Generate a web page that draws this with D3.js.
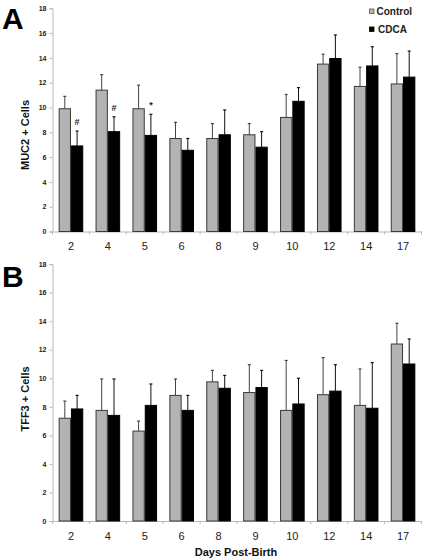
<!DOCTYPE html>
<html><head><meta charset="utf-8">
<script src="https://cdn.jsdelivr.net/npm/d3@7"></script>
<style>
html,body{margin:0;padding:0;background:#fff;}
svg{display:block;font-family:"Liberation Sans",Arial,sans-serif;}
</style></head>
<body><svg id="chart" width="425" height="560"></svg>
<script>
const categories = ["2","4","5","6","8","9","10","12","14","17"];
const seriesNames = ["Control","CDCA"];
const yTicks = [0,2,4,6,8,10,12,14,16,18];

const muc2Control = [9.9, 11.4, 9.9, 7.5, 7.5, 7.8, 9.2, 13.5, 11.7, 11.9];
const muc2ControlErr = [1.0, 1.25, 1.9, 1.3, 1.2, 0.9, 1.85, 0.8, 1.55, 2.45];
const muc2Cdca = [6.9, 8.05, 7.75, 6.55, 7.8, 6.8, 10.5, 13.95, 13.35, 12.45];
const muc2CdcaErr = [1.2, 1.2, 1.7, 0.95, 2.0, 1.25, 1.1, 1.9, 1.55, 2.1];
const muc2Marks = ["#", "#", "*", "", "", "", "", "", "", ""];

const tff3Control = [7.2, 7.75, 6.3, 8.8, 9.75, 9.0, 7.75, 8.85, 8.1, 12.4];
const tff3ControlErr = [1.2, 2.2, 0.7, 1.15, 0.8, 1.95, 3.5, 2.6, 2.55, 1.45];
const tff3Cdca = [7.85, 7.4, 8.1, 7.75, 9.3, 9.35, 8.2, 9.1, 7.9, 11.0];
const tff3CdcaErr = [0.95, 2.55, 1.5, 1.05, 0.9, 1.2, 1.8, 1.85, 3.2, 1.75];

const svg = d3.select("#chart");
const colors = {Control: "#b3b3b3", CDCA: "#000000"};
const strokes = {Control: "#3a3a3a", CDCA: "#000000"};

const x = d3.scaleBand().domain(categories).range([52.5, 421.5]).padding(0);
const xs = d3.scaleBand().domain(seriesNames).range([x.bandwidth()/6, x.bandwidth()*5/6]).padding(0);

function panel(opts){
  const y = d3.scaleLinear().domain([0,18]).range([opts.y0, opts.y18]);
  const g = svg.append("g");
  // y axis
  const yAxis = d3.axisLeft(y).tickValues(yTicks).tickSize(3).tickPadding(3);
  const ya = g.append("g").attr("transform", `translate(${x.range()[0]},0)`).call(yAxis);
  ya.select(".domain").attr("stroke", "#b8b8b8");
  ya.selectAll(".tick line").attr("stroke", "#b8b8b8");
  ya.selectAll(".tick text").attr("font-size", 7).attr("font-weight", "bold").attr("fill", "#222")
    .attr("font-family", "'Liberation Sans',Arial,sans-serif");
  // x axis
  const xa = g.append("g").attr("transform", `translate(0,${opts.y0})`)
    .call(d3.axisBottom(x).tickSize(0).tickPadding(11));
  xa.select(".domain").attr("stroke", "#b8b8b8");
  xa.selectAll(".tick text").attr("font-size", 11).attr("fill", "#222")
    .attr("font-family", "'Liberation Sans',Arial,sans-serif");
  // boundary ticks
  const bounds = categories.map(c => x(c)).concat([x.range()[1]]);
  g.append("g").selectAll("line").data(bounds).join("line")
    .attr("x1", d => d).attr("x2", d => d)
    .attr("y1", opts.y0).attr("y2", opts.y0 + 3)
    .attr("stroke", "#b8b8b8");

  const series = [
    {name: "Control", vals: opts.control, errs: opts.controlErr},
    {name: "CDCA", vals: opts.cdca, errs: opts.cdcaErr}
  ];
  series.forEach(s => {
    const sg = g.append("g");
    const data = categories.map((c, i) => ({c, v: s.vals[i], e: s.errs[i]}));
    // error bars (upward)
    sg.selectAll("line.err").data(data).join("line").attr("class","err")
      .attr("x1", d => x(d.c) + xs(s.name) + xs.bandwidth()/2)
      .attr("x2", d => x(d.c) + xs(s.name) + xs.bandwidth()/2)
      .attr("y1", d => y(d.v)).attr("y2", d => y(d.v + d.e))
      .attr("stroke", s.name === "Control" ? "#444" : "#111").attr("stroke-width", 1);
    sg.selectAll("line.cap").data(data).join("line").attr("class","cap")
      .attr("x1", d => x(d.c) + xs(s.name) + xs.bandwidth()/2 - 1.5)
      .attr("x2", d => x(d.c) + xs(s.name) + xs.bandwidth()/2 + 1.5)
      .attr("y1", d => y(d.v + d.e)).attr("y2", d => y(d.v + d.e))
      .attr("stroke", s.name === "Control" ? "#444" : "#111").attr("stroke-width", 1.2);
    sg.selectAll("rect").data(data).join("rect")
      .attr("x", d => x(d.c) + xs(s.name) + 0.5)
      .attr("width", xs.bandwidth() - 1)
      .attr("y", d => y(d.v))
      .attr("height", d => y(0) - y(d.v))
      .attr("fill", colors[s.name]).attr("stroke", strokes[s.name]).attr("stroke-width", 1);
  });

  if (opts.marks) {
    g.append("g").selectAll("text").data(categories.map((c,i)=>({c, m: opts.marks[i], top: opts.cdca[i] + opts.cdcaErr[i]})))
      .join("text")
      .attr("x", d => x(d.c) + xs("CDCA") + xs.bandwidth()/2)
      .attr("y", d => y(d.top) - 6)
      .attr("text-anchor", "middle").attr("font-size", 9).attr("font-weight", "bold").attr("fill", "#222")
      .text(d => d.m);
  }

  // y title
  g.append("text")
    .attr("transform", `translate(${opts.titleX},${opts.titleY}) rotate(-90)`)
    .attr("text-anchor", "middle").attr("font-size", 11).attr("font-weight", "bold").attr("fill", "#111")
    .text(opts.title);
  // panel letter
  g.append("text").attr("x", 2).attr("y", opts.letterY)
    .attr("font-size", 30).attr("font-weight", "bold").attr("fill", "#000").text(opts.letter);
  return y;
}

panel({y0: 231.5, y18: 8.3, control: muc2Control, controlErr: muc2ControlErr,
  cdca: muc2Cdca, cdcaErr: muc2CdcaErr, marks: muc2Marks,
  title: "MUC2 + Cells", titleX: 29, titleY: 135, letter: "A", letterY: 28.5});
panel({y0: 521, y18: 264.1, control: tff3Control, controlErr: tff3ControlErr,
  cdca: tff3Cdca, cdcaErr: tff3CdcaErr, marks: null,
  title: "TFF3 + Cells", titleX: 29, titleY: 399, letter: "B", letterY: 287});

// x title
svg.append("text").attr("x", 236).attr("y", 556).attr("text-anchor", "middle")
  .attr("font-size", 11).attr("font-weight", "bold").attr("fill", "#111").text("Days Post-Birth");

// legend
const legend = svg.append("g");
seriesNames.forEach((n, i) => {
  const ly = 9 + i * 18;
  legend.append("rect").attr("x", 369.5).attr("y", ly).attr("width", 4.5).attr("height", 4.5)
    .attr("fill", colors[n]).attr("stroke", n === "Control" ? "#555" : "#000").attr("stroke-width", 0.8);
  legend.append("text").attr("x", n === "Control" ? 376.5 : 378).attr("y", ly + 5.5)
    .attr("font-size", 10).attr("font-weight", "bold").attr("fill", "#222").text(n);
});
</script></body></html>
